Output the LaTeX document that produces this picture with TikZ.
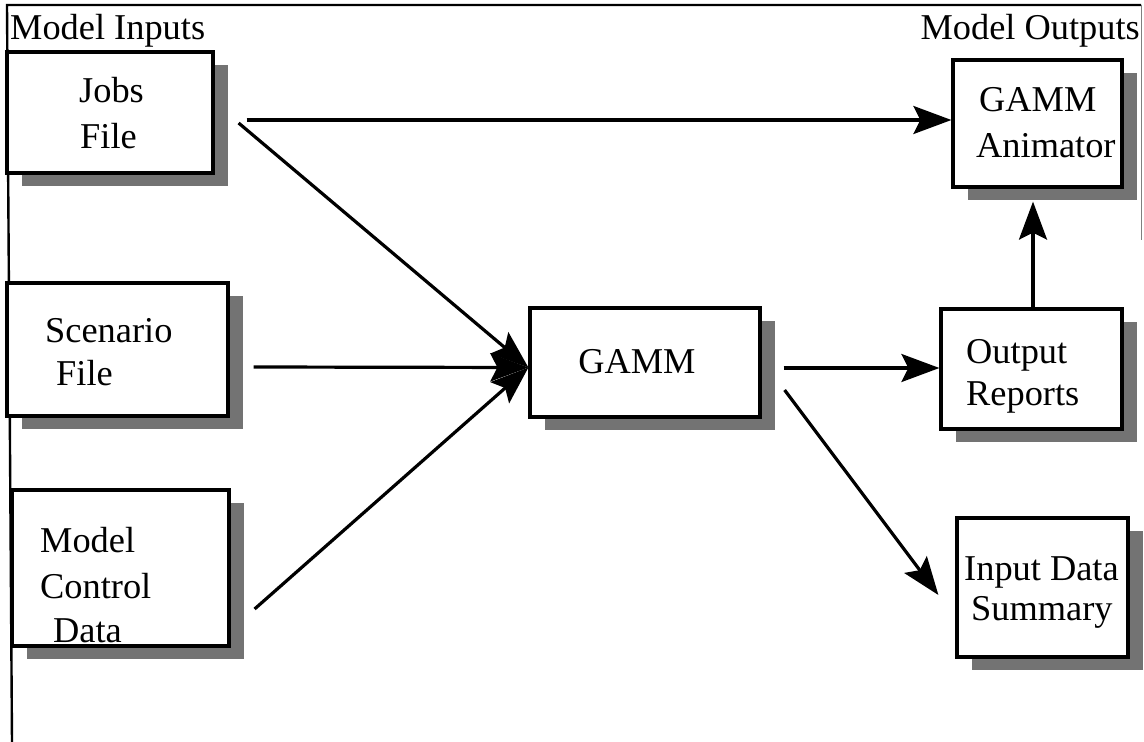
\documentclass[tikz,border=0pt]{standalone}
\usepackage{fontspec}
\setmainfont{Liberation Serif}
\usetikzlibrary{arrows.meta,shadows,calc}
\begin{document}
\begin{tikzpicture}[x=1bp,y=-1bp,
  box/.style={draw,line width=3.2bp,fill=white,inner sep=0pt,
    drop shadow={shadow xshift=15bp,shadow yshift=-13bp,fill=black!55,opacity=1}},
  txt/.style={anchor=base west,inner sep=0pt,font=\fontsize{36.5}{44}\selectfont},
  arr/.style={line width=3.2bp,-{Stealth[length=38bp,width=28bp,inset=7bp]}},
  frame/.style={line width=2.4bp}]
\useasboundingbox (0,0) rectangle (1144,742);
% frame
\coordinate (ftl) at (7,5);
\coordinate (ftr) at (1141,5);
\coordinate (fbl) at (12,742);
\coordinate (frb) at (1141,240);
\draw[frame] (fbl) -- (ftl) -- (ftr);
\draw[line width=1bp,black!50] (ftr) -- (frb);
% boxes
\node[box,minimum width=206bp,minimum height=121bp] (jobs) at (110,112.5) {};
\node[box,minimum width=221bp,minimum height=133bp] (scen) at (117.5,349.5) {};
\node[box,minimum width=217bp,minimum height=156bp] (ctrl) at (120.5,568) {};
\node[box,minimum width=230bp,minimum height=109bp] (gamm) at (645,362.5) {};
\node[box,minimum width=169bp,minimum height=127bp] (anim) at (1037.5,123.5) {};
\node[box,minimum width=181bp,minimum height=120bp] (outr) at (1031.5,369) {};
\node[box,minimum width=171bp,minimum height=139bp] (inds) at (1042.5,587.5) {};
% texts
\node[txt] (tin) at (10,40) {Model Inputs};
\node[txt,anchor=base east] (tout) at (1140,40) {Model Outputs};
\node[txt] (jobsA) at (79,103) {Jobs};
\node[txt] (jobsB) at (80,148) {File};
\node[txt] (scenA) at (45,342) {Scenario};
\node[txt] (scenB) at (56,385) {File};
\node[txt] (ctrlA) at (40,552) {Model};
\node[txt] (ctrlB) at (40,598) {Control};
\node[txt] (ctrlC) at (53,642) {Data};
\node[txt,anchor=base] (gammA) at (637,373) {GAMM};
\node[txt] (animA) at (979,112) {GAMM};
\node[txt] (animB) at (976,157) {Animator};
\node[txt] (outrA) at (966,363) {Output};
\node[txt] (outrB) at (966,405) {Reports};
\node[txt] (indsA) at (964,580) {Input Data};
\node[txt] (indsB) at (971,620) {Summary};
% connector points
\coordinate (gin) at ($(gamm.west)+(0,5)$);
\coordinate (j1) at ($(jobs.east)+(32,7.5)$);
\coordinate (j2) at ($(jobs.east)+(24,10.5)$);
\coordinate (s1) at ($(scen.east)+(24,17.5)$);
\coordinate (c1) at ($(ctrl.east)+(24,41)$);
\coordinate (g1) at ($(gamm.east)+(22,5.5)$);
\coordinate (g2) at ($(gamm.east)+(23,27.5)$);
\coordinate (o1) at ($(outr.north)+(1.5,0)$);
\coordinate (a1) at ($(anim.south)+(0,13)$);
\coordinate (i1) at ($(inds.west)+(-17,7.5)$);
% connectors
\draw[arr] (j1) -- (j1 -| anim.west);
\draw[arr] (j2) -- (gin);
\draw[arr] (s1) -- (gin);
\draw[arr] (c1) -- (gin);
\draw[arr] (g1) -- (g1 -| outr.west);
\draw[arr] (g2) -- (i1);
\draw[arr] (o1) -- (o1 |- a1);
\end{tikzpicture}
\end{document}
